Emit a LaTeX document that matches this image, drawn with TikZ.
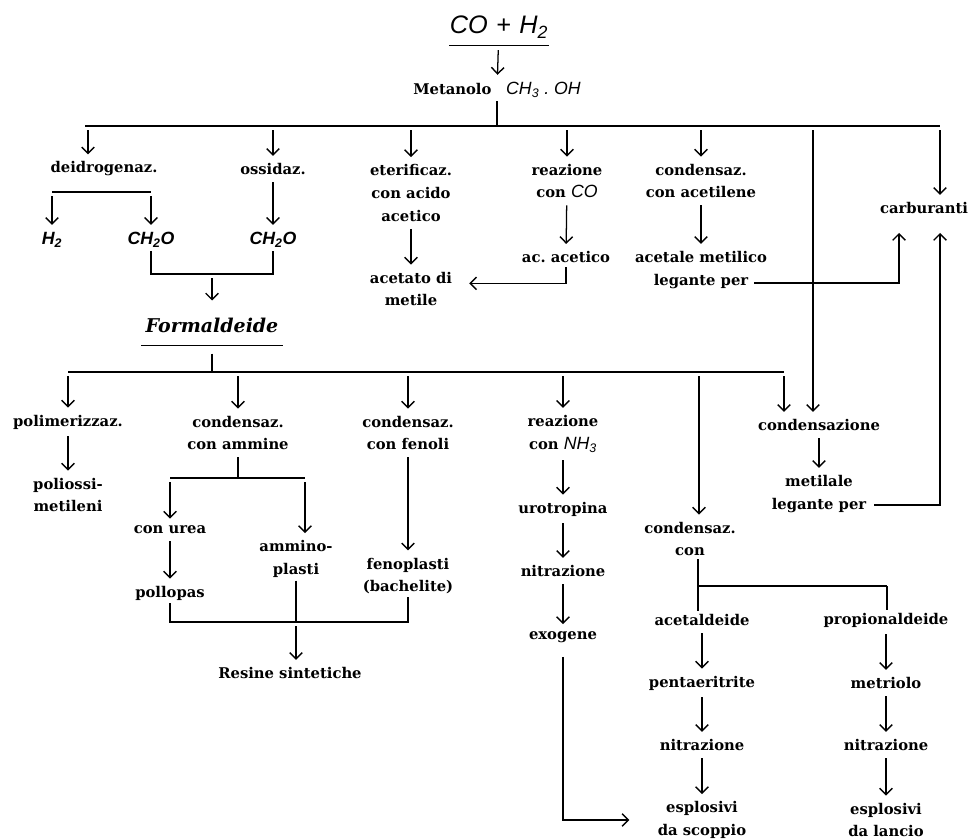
\documentclass[tikz,border=0pt]{standalone}
\usepackage{fontspec}
\setmainfont{DejaVu Serif}
\newfontfamily\formula[Scale=1.2]{Liberation Sans}
\usetikzlibrary{arrows.meta}
\newcommand{\fml}[1]{{\formula\itshape #1}}
\tikzset{
  voce/.style={font=\fontsize{10.5}{16.3}\selectfont\bfseries, align=center, inner sep=2pt},
  linea/.style={line width=0.9pt},
  freccia/.style={linea, -{Straight Barb[length=4.5pt,width=9pt,line width=1pt]}, shorten <=3pt, shorten >=3pt},
}

\begin{document}
\begin{tikzpicture}[x=0.025cm, y=-0.025cm]
  \useasboundingbox (0,0) rectangle (968,840);
  % Gas di sintesi e metanolo
  \node[inner xsep=0pt, inner ysep=5pt, font=\fontsize{15}{18}\selectfont] (coh) at (499,27) {\fml{CO\,\,+\,\,H\textsubscript{2}}};
  \draw[linea] (coh.south west) -- (coh.south east);
  \node[voce] (met) at (497,90) {Metanolo\quad\fml{\mdseries CH\textsubscript{3}\ .\ OH}};
  \draw[freccia] (coh) -- (met);
  \coordinate (b1w) at (85,126);
  \coordinate (b1e) at (940,126);
  \coordinate (b1a) at (88,126);
  \coordinate (b1v) at (813,126);
  \draw[linea] (met.south) -- (met.south |- b1w);
  \draw[linea] (b1w) -- (b1e);
  % Prima fila sotto il metanolo
  \node[voce] (deid) at (104,169) {deidrogenaz.};
  \node[voce] (ossid) at (273,169) {ossidaz.};
  \node[voce] (eter) at (411,193) {eterificaz.\\con acido\\acetico};
  \node[voce] (reaz) at (567,181) {reazione\\con \fml{\mdseries CO}};
  \node[voce] (cond) at (701,181) {condensaz.\\con acetilene};
  \node[voce] (carb) at (924,208) {carburanti};
  \draw[freccia] (b1a) -- (b1a |- deid.north);
  \draw[freccia] (ossid |- b1w) -- (ossid);
  \draw[freccia] (eter |- b1w) -- (eter);
  \draw[freccia] (reaz |- b1w) -- (reaz);
  \draw[freccia] (cond |- b1w) -- (cond);
  \draw[freccia] (b1e) -- (b1e |- carb.north);
  % Deidrogenazione e ossidazione
  \coordinate (dh) at (0,192);
  \node[voce] (h2) at (52,240) {\fml{H\textsubscript{2}}};
  \node[voce] (ch2oa) at (151,240) {\fml{CH\textsubscript{2}O}};
  \node[voce] (ch2ob) at (273,240) {\fml{CH\textsubscript{2}O}};
  \draw[linea] (h2 |- dh) -- (ch2oa |- dh);
  \draw[freccia] (h2 |- dh) -- (h2);
  \draw[freccia] (ch2oa |- dh) -- (ch2oa);
  \draw[freccia] (ossid) -- (ch2ob);
  % Acetato, acido acetico, acetale
  \node[voce] (acet) at (411,289) {acetato di\\metile};
  \node[voce] (acac) at (566,257) {ac.\ acetico};
  \node[voce] (acme) at (701,270) {acetale metilico\\legante per};
  \draw[freccia] (eter) -- (acet);
  \draw[freccia] (reaz) -- (acac);
  \draw[freccia] (cond) -- (acme);
  \draw[freccia, shorten <=1pt, shorten >=10pt] (acac.south) |- ([yshift=4pt]acet.east);
  \coordinate (lp1) at (754,283);
  \coordinate (su1) at (899,233);
  \draw[freccia, shorten <=0pt, shorten >=0pt] (lp1) -| (su1);
  % Formaldeide
  \coordinate (fh) at (0,274);
  \node[font=\fontsize{13.5}{18}\selectfont\bfseries\itshape, inner xsep=3pt, inner ysep=9pt] (form) at (212,325) {Formaldeide};
  \draw[linea] (ch2oa.south) -- (ch2oa |- fh) -- (ch2ob |- fh) -- (ch2ob.south);
  \draw[freccia] (form |- fh) -- (form);
  \draw[linea] (form.south west) -- (form.south east);
  \coordinate (b2w) at (68,372);
  \coordinate (b2e) at (784,372);
  \coordinate (b2c) at (699,372);
  \draw[linea, shorten <=6pt] (form.south) -- (form |- b2w);
  \draw[linea] (b2w) -- (b2e);
  % Seconda fila sotto la formaldeide
  \node[voce] (polim) at (68,422) {polimerizzaz.};
  \node[voce] (ammi) at (238,433) {condensaz.\\con ammine};
  \node[voce] (feno) at (408,433) {condensaz.\\con fenoli};
  \node[voce] (nh3) at (563,434) {reazione\\con \fml{\mdseries NH\textsubscript{3}}};
  \node[voce] (condz) at (819,425) {condensazione};
  \node[voce] (condcon) at (690,539) {condensaz.\\con};
  \draw[freccia] (b2w) -- (polim);
  \draw[freccia] (ammi |- b2w) -- (ammi);
  \draw[freccia] (feno |- b2w) -- (feno);
  \draw[freccia] (nh3 |- b2w) -- (nh3);
  \draw[freccia] (b2e) -- (b2e |- condz.north);
  \draw[freccia] (b1v) -- (b1v |- condz.north);
  \draw[freccia] (b2c) -- (b2c |- condcon.north);
  % Polimeri e resine
  \node[voce] (polio) at (68,495) {poliossi-\\metileni};
  \draw[freccia] (polim) -- (polio);
  \coordinate (b3w) at (170,478);
  \coordinate (b3e) at (305,478);
  \draw[linea, shorten <=3pt] (ammi.south) -- (ammi |- b3w);
  \draw[linea] (b3w) -- (b3e);
  \node[voce] (urea) at (170,530) {con urea};
  \node[voce] (ammino) at (296,559) {ammino-\\plasti};
  \node[voce] (pollo) at (170,593) {pollopas};
  \node[voce] (fenop) at (408,576) {fenoplasti\\(bachelite)};
  \draw[freccia] (b3w) -- (urea);
  \draw[freccia] (b3e) -- (b3e |- ammino.north);
  \draw[freccia] (urea) -- (pollo);
  \draw[freccia] (feno) -- (fenop);
  \coordinate (b4) at (0,622);
  \node[voce] (resine) at (290,673) {Resine sintetiche};
  \draw[linea] (pollo.south) -- (pollo |- b4) -- (fenop |- b4) -- (fenop.south);
  \draw[linea] (ammino.south) -- (ammino |- b4);
  \draw[freccia] (ammino |- b4) -- (ammino |- resine.north);
  % Urotropina ed esplosivi
  \node[voce] (urot) at (563,509) {urotropina};
  \node[voce] (nitr1) at (563,571) {nitrazione};
  \node[voce] (exo) at (563,637) {exogene};
  \draw[freccia] (nh3) -- (urot);
  \draw[freccia] (urot) -- (nitr1);
  \draw[freccia] (nitr1) -- (exo);
  \coordinate (b5w) at (698,586);
  \coordinate (b5e) at (887,586);
  \draw[linea] (b5w |- condcon.south) -- (b5w) -- (b5e);
  \node[voce] (acald) at (702,620) {acetaldeide};
  \node[voce] (penta) at (702,683) {pentaeritrite};
  \node[voce] (nitr2) at (702,745) {nitrazione};
  \node[voce] (esc) at (702,820) {esplosivi\\da scoppio};
  \node[voce] (propal) at (886,620) {propionaldeide};
  \node[voce] (metr) at (886,683) {metriolo};
  \node[voce] (nitr3) at (886,745) {nitrazione};
  \node[voce] (esl) at (886,820) {esplosivi\\da lancio};
  \draw[linea] (b5w) -- (b5w |- acald.north);
  \draw[linea] (b5e) -- (b5e |- propal.north);
  \draw[freccia] (acald) -- (penta);
  \draw[freccia] (penta) -- (nitr2);
  \draw[freccia] (nitr2) -- (esc);
  \draw[freccia] (propal) -- (metr);
  \draw[freccia] (metr) -- (nitr3);
  \draw[freccia] (nitr3) -- (esl);
  \draw[freccia, shorten <=8pt, shorten >=18pt] (exo.south) |- (esc.west);
  % Metilale verso i carburanti
  \node[voce] (metil) at (819,494) {metilale\\legante per};
  \draw[freccia] (condz) -- (metil);
  \coordinate (lp2) at (874,505);
  \coordinate (su2) at (940,233);
  \draw[freccia, shorten <=0pt, shorten >=0pt] (lp2) -| (su2);
\end{tikzpicture}
\end{document}
